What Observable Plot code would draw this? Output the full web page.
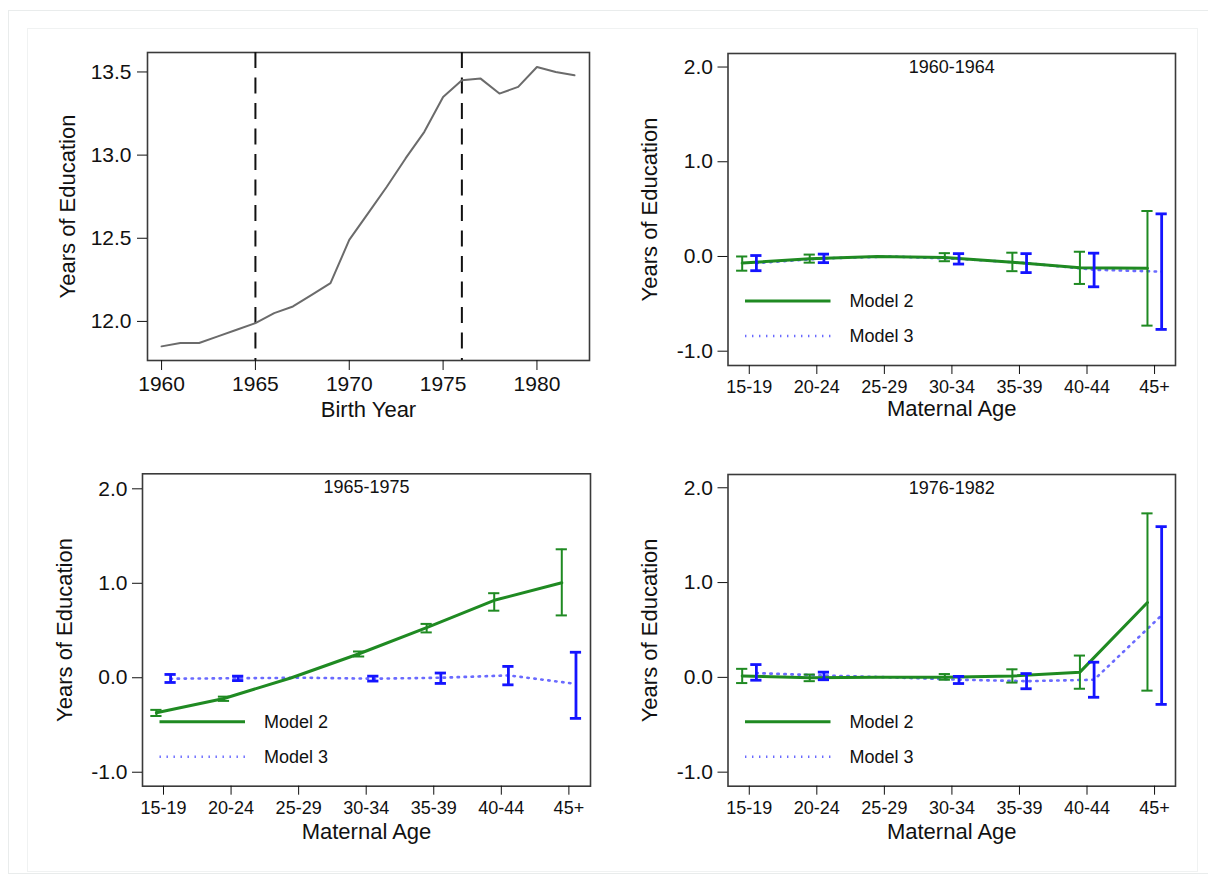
<!DOCTYPE html>
<html>
<head>
<meta charset="utf-8">
<script src="https://cdn.jsdelivr.net/npm/d3@7"></script>
<script src="https://cdn.jsdelivr.net/npm/@observablehq/plot@0.6"></script>
<style>
  html, body { margin: 0; padding: 0; background: #fff; }
  #page { position: relative; width: 1208px; height: 877px; background: #fff; overflow: hidden;
          font-family: "Liberation Sans", Arial, Helvetica, sans-serif; }
  .outer { position: absolute; left: 8px; top: 10px; width: 1210px; height: 862px; border: 1px solid #e9ecec; }
  .inner { position: absolute; left: 27px; top: 28px; width: 1169px; height: 842px; border: 1px solid #f0f2f2; }
  .panel { position: absolute; }
  .panel svg { overflow: visible; }
</style>
</head>
<body>
<div id="page">
  <div class="outer"></div>
  <div class="inner"></div>
  <div class="panel" id="p1" style="left:0px; top:0px"></div>
  <div class="panel" id="p2" style="left:604px; top:0px"></div>
  <div class="panel" id="p3" style="left:0px; top:438px"></div>
  <div class="panel" id="p4" style="left:604px; top:438px"></div>
</div>
<script>
// ---------- data ----------
const birthYears = [1960,1961,1962,1963,1964,1965,1966,1967,1968,1969,1970,1971,1972,1973,1974,1975,1976,1977,1978,1979,1980,1981,1982];
const meanEducation = [11.85,11.87,11.87,11.91,11.95,11.99,12.05,12.09,12.16,12.23,12.49,12.65,12.81,12.98,13.14,13.35,13.45,13.46,13.37,13.41,13.53,13.50,13.48];
const cohortCutYears = [1965, 1976];
const birthYearTicks = [1960, 1965, 1970, 1975, 1980];
const educationTicks = [12.0, 12.5, 13.0, 13.5];

const ageGroups = ["15-19","20-24","25-29","30-34","35-39","40-44","45+"];
const effectTicks = [-1, 0, 1, 2];
const modelNames = ["Model 2", "Model 3"];

// 1960-1964
const m2Est_6064 = [-0.07, -0.025, 0, -0.01, -0.06, -0.12, -0.125];
const m2Lo_6064  = [-0.15, -0.065, null, -0.05, -0.155, -0.29, -0.73];
const m2Hi_6064  = [0.00, 0.02, null, 0.035, 0.04, 0.05, 0.48];
const m3Est_6064 = [-0.07, -0.02, 0, -0.025, -0.07, -0.14, -0.16];
const m3Lo_6064  = [-0.15, -0.065, null, -0.08, -0.17, -0.32, -0.77];
const m3Hi_6064  = [0.01, 0.025, null, 0.03, 0.03, 0.035, 0.45];

// 1965-1975
const m2Est_6575 = [-0.37, -0.22, 0, 0.254, 0.53, 0.82, 1.005];
const m2Lo_6575  = [-0.405, -0.245, null, 0.225, 0.48, 0.71, 0.66];
const m2Hi_6575  = [-0.34, -0.20, null, 0.278, 0.57, 0.895, 1.36];
const m3Est_6575 = [-0.01, -0.005, 0, -0.01, 0.0, 0.025, -0.065];
const m3Lo_6575  = [-0.05, -0.03, null, -0.035, -0.06, -0.075, -0.43];
const m3Hi_6575  = [0.035, 0.017, null, 0.017, 0.05, 0.12, 0.27];

// 1976-1982
const m2Est_7682 = [0.015, -0.005, 0, 0.0, 0.015, 0.055, 0.79];
const m2Lo_7682  = [-0.06, -0.04, null, -0.025, -0.055, -0.12, -0.14];
const m2Hi_7682  = [0.09, 0.03, null, 0.035, 0.085, 0.23, 1.73];
const m3Est_7682 = [0.045, 0.02, 0, -0.025, -0.04, -0.025, 0.655];
const m3Lo_7682  = [-0.03, -0.025, null, -0.065, -0.12, -0.21, -0.285];
const m3Hi_7682  = [0.135, 0.055, null, 0.01, 0.04, 0.16, 1.59];

// ---------- styles ----------
const FONT = '"Liberation Sans", Arial, Helvetica, sans-serif';
const GREEN = "#1f8a22";
const BLUE = "#1414ff";
const BLUE_DOT = "#6a6aff";
const DOTS = "1.4,5.6";
const FRAME = "#3a3a3a";

// ---------- panel 1: birth year ----------
const eduRows = birthYears.map((y, i) => ({year: y, edu: meanEducation[i]}));
const p1 = Plot.plot({
  width: 604, height: 438,
  marginLeft: 147, marginRight: 15, marginTop: 52, marginBottom: 78,
  style: {fontFamily: FONT, fontSize: "21px", color: "#111", background: "transparent", overflow: "visible"},
  x: {domain: [1959.25, 1982.8]},
  y: {domain: [11.765, 13.617]},
  marks: [
    Plot.frame({stroke: FRAME, strokeWidth: 1.6}),
    Plot.axisX({ticks: birthYearTicks, tickFormat: d => String(d), tickSize: 10, tickPadding: 6, fontSize: 21, label: null}),
    Plot.axisY({ticks: educationTicks, tickFormat: d => d.toFixed(1), tickSize: 10, tickPadding: 6, fontSize: 21, label: null}),
    Plot.ruleX(cohortCutYears, {x: d => d, stroke: "#111", strokeWidth: 2, strokeDasharray: "16,9.5"}),
    Plot.line(eduRows, {x: "year", y: "edu", stroke: "#6b6b6b", strokeWidth: 2}),
    Plot.text(["Years of Education"], {text: d => d, frameAnchor: "left", textAnchor: "middle", lineAnchor: "middle", rotate: -90, dx: -80, fontSize: 22}),
    Plot.text(["Birth Year"], {text: d => d, frameAnchor: "bottom", textAnchor: "middle", lineAnchor: "middle", dy: 49.5, fontSize: 22})
  ]
});
document.getElementById("p1").appendChild(p1);

// ---------- age panels ----------
function buildRows(est, lo, hi, offset) {
  return ageGroups.map((g, i) => ({group: g, pos: i + 1 + offset, est: est[i], lo: lo[i], hi: hi[i]}));
}

function agePanel(el, cfg) {
  const off = 0.105, cap = 0.083;
  const r2 = buildRows(cfg.m2[0], cfg.m2[1], cfg.m2[2], -off);
  const r3 = buildRows(cfg.m3[0], cfg.m3[1], cfg.m3[2], off);
  const c2 = r2.filter(d => d.lo != null);
  const c3 = r3.filter(d => d.lo != null);
  const bars = (rows, color, w) => [
    Plot.ruleX(rows, {x: "pos", y1: "lo", y2: "hi", stroke: color, strokeWidth: w}),
    Plot.ruleY(rows, {y: "lo", x1: d => d.pos - cap, x2: d => d.pos + cap, stroke: color, strokeWidth: w}),
    Plot.ruleY(rows, {y: "hi", x1: d => d.pos - cap, x2: d => d.pos + cap, stroke: color, strokeWidth: w})
  ];
  const svg = Plot.plot({
    width: 604, height: cfg.h,
    marginLeft: cfg.ml, marginRight: cfg.mr, marginTop: cfg.mt, marginBottom: cfg.mb,
    style: {fontFamily: FONT, fontSize: "21px", color: "#111", background: "transparent", overflow: "visible"},
    x: {domain: cfg.xdom},
    y: {domain: cfg.ydom},
    marks: [
      Plot.frame({stroke: FRAME, strokeWidth: 1.6}),
      Plot.axisX({ticks: [1,2,3,4,5,6,7], tickFormat: i => ageGroups[i - 1], tickSize: 9, tickPadding: 6, fontSize: 18, label: null}),
      Plot.axisY({ticks: effectTicks, tickFormat: d => d.toFixed(1), tickSize: 10, tickPadding: 5, fontSize: 21, label: null}),
      Plot.line(r3, {x: "pos", y: "est", stroke: BLUE_DOT, strokeWidth: 2.6, strokeDasharray: DOTS}),
      Plot.line(r2, {x: "pos", y: "est", stroke: GREEN, strokeWidth: 3, strokeLinejoin: "round"}),
      ...bars(c2, GREEN, 2),
      ...bars(c3, BLUE, 2.8),
      Plot.text([cfg.title], {text: d => d, frameAnchor: "top", textAnchor: "middle", lineAnchor: "middle", dy: 13.5, fontSize: 18}),
      Plot.text(["Years of Education"], {text: d => d, frameAnchor: "left", textAnchor: "middle", lineAnchor: "middle", rotate: -90, dx: -78, fontSize: 22}),
      Plot.text(["Maternal Age"], {text: d => d, frameAnchor: "bottom", textAnchor: "middle", lineAnchor: "middle", dy: cfg.xlabDy, fontSize: 22})
    ]
  });
  // in-plot legend (layout only)
  const s = d3.select(svg);
  const fx = cfg.ml, fb = cfg.h - cfg.mb;
  const leg = s.append("g").attr("font-family", FONT).attr("font-size", 18).attr("text-anchor", "start");
  const items = [
    {name: modelNames[0], color: GREEN, dash: null, w: 3, dy: 64},
    {name: modelNames[1], color: BLUE_DOT, dash: DOTS, w: 2.6, dy: 29}
  ];
  items.forEach(it => {
    leg.append("line").attr("x1", fx + 17.5).attr("x2", fx + 103).attr("y1", fb - it.dy).attr("y2", fb - it.dy)
      .attr("stroke", it.color).attr("stroke-width", it.w).attr("stroke-dasharray", it.dash);
    leg.append("text").attr("x", fx + 122).attr("y", fb - it.dy).attr("dy", "0.35em")
      .attr("text-anchor", "start").attr("fill", "#111").text(it.name);
  });
  document.getElementById(el).appendChild(svg);
}

agePanel("p2", {
  title: "1960-1964", h: 438, ml: 123.5, mr: 33, mt: 53, mb: 73, xlabDy: 43,
  xdom: [0.685, 7.31], ydom: [-1.151, 2.143],
  m2: [m2Est_6064, m2Lo_6064, m2Hi_6064], m3: [m3Est_6064, m3Lo_6064, m3Hi_6064]
});
agePanel("p3", {
  title: "1965-1975", h: 439, ml: 142, mr: 14, mt: 35.3, mb: 91.3, xlabDy: 45.5,
  xdom: [0.689, 7.32], ydom: [-1.148, 2.159],
  m2: [m2Est_6575, m2Lo_6575, m2Hi_6575], m3: [m3Est_6575, m3Lo_6575, m3Hi_6575]
});
agePanel("p4", {
  title: "1976-1982", h: 439, ml: 123.5, mr: 33, mt: 36, mb: 91.3, xlabDy: 45.5,
  xdom: [0.685, 7.31], ydom: [-1.148, 2.14],
  m2: [m2Est_7682, m2Lo_7682, m2Hi_7682], m3: [m3Est_7682, m3Lo_7682, m3Hi_7682]
});
</script>
</body>
</html>
